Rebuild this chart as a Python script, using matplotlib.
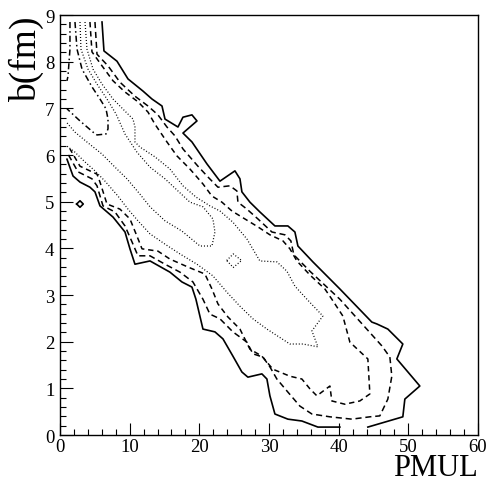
import numpy as np
import matplotlib
matplotlib.use("Agg")
import matplotlib.pyplot as plt

plt.rcParams['font.family'] = ['Liberation Serif', 'DejaVu Serif']

# contour lines, (PMUL, b) pairs
# level 1 - solid
solid_right = [(6.03, 8.85), (6.31, 8.23), (8.18, 8.01), (9.76, 7.63), (11.91, 7.37),
               (13.20, 7.20), (14.64, 7.05), (15.07, 6.77), (16.93, 6.60), (17.65, 6.81),
               (18.94, 6.86), (19.66, 6.73), (17.65, 6.47), (18.94, 6.28), (21.09, 5.81),
               (22.96, 5.44), (25.11, 5.66), (25.83, 5.49), (26.11, 5.21), (27.26, 4.99),
               (28.69, 4.78), (30.85, 4.48), (32.71, 4.48), (33.72, 4.35), (34.15, 4.05),
               (36.30, 3.71), (40.17, 3.13), (44.76, 2.42), (45.48, 2.38), (47.06, 2.27),
               (49.21, 1.95), (48.35, 1.63), (51.65, 1.05), (49.50, 0.77), (49.21, 0.39),
               (44.19, 0.17)]
solid_left = [(1.00, 5.91), (1.87, 5.55), (2.87, 5.42), (4.30, 5.31), (5.02, 5.21),
              (5.74, 4.91), (7.61, 4.67), (9.33, 4.35), (10.04, 3.99), (10.76, 3.66),
              (12.92, 3.73), (15.78, 3.49), (17.50, 3.28), (18.94, 3.17), (19.51, 2.91),
              (20.52, 2.27), (22.24, 2.21), (23.39, 2.06), (24.82, 1.69), (26.11, 1.35),
              (26.97, 1.24), (28.98, 1.31), (29.70, 1.20), (30.13, 0.84), (30.85, 0.45),
              (32.71, 0.34), (34.72, 0.30), (37.02, 0.17), (40.17, 0.17)]
solid_island = [(2.39, 4.95), (2.87, 5.02), (3.34, 4.95), (2.87, 4.88), (2.39, 4.95)]

# level 2 - dashed
dash_outer = [(5.02, 8.85), (5.31, 8.16), (6.89, 7.91), (8.61, 7.56), (10.76, 7.26),
              (12.63, 7.05), (14.06, 6.86), (15.35, 6.60), (16.50, 6.41), (17.65, 6.13),
              (19.80, 5.76), (21.23, 5.53), (22.67, 5.31), (24.39, 5.34), (25.39, 5.23),
              (25.54, 4.99), (26.83, 4.84), (28.41, 4.63), (30.42, 4.35), (32.28, 4.29),
              (33.14, 4.16), (33.57, 3.86), (35.87, 3.51), (40.17, 2.91), (46.20, 1.91),
              (47.35, 1.67), (47.63, 1.26), (47.06, 0.77), (45.91, 0.41), (44.48, 0.39),
              (41.89, 0.34), (38.74, 0.39), (36.16, 0.45), (34.43, 0.62), (32.71, 0.92),
              (31.13, 1.20), (30.13, 1.46), (29.13, 1.67), (27.69, 1.74), (26.83, 1.99),
              (24.82, 2.21), (22.96, 2.49), (21.52, 2.59), (20.52, 2.91), (19.08, 3.28),
              (17.22, 3.49), (15.07, 3.66), (12.92, 3.84), (11.19, 3.84), (10.33, 4.14),
              (9.33, 4.48), (7.89, 4.78), (6.17, 4.91), (5.31, 5.34), (4.59, 5.49),
              (2.58, 5.64), (1.00, 6.06)]

# level 3 - dashed
dash_inner = [(4.30, 8.85), (4.59, 8.21), (6.03, 7.91), (7.61, 7.59), (9.33, 7.35),
              (11.19, 7.14), (12.63, 6.92), (13.63, 6.66), (15.35, 6.28), (16.79, 5.98),
              (18.65, 5.70), (20.52, 5.38), (21.81, 5.12), (23.24, 4.99), (24.68, 4.80),
              (26.54, 4.63), (28.41, 4.46), (30.13, 4.29), (32.00, 4.16), (33.00, 3.99),
              (34.00, 3.73), (35.87, 3.43), (38.02, 3.13), (39.02, 2.91), (40.60, 2.55),
              (41.61, 1.99), (44.19, 1.63), (44.48, 0.88), (43.04, 0.73), (40.89, 0.66),
              (39.02, 0.73), (38.74, 1.05), (36.87, 0.84), (35.87, 0.99), (34.72, 1.20),
              (33.00, 1.26), (30.56, 1.41), (28.98, 1.69), (27.26, 1.84), (25.83, 2.27),
              (24.10, 2.53), (22.67, 2.81), (21.81, 3.13), (20.80, 3.45), (18.36, 3.60),
              (15.78, 3.77), (14.06, 3.94), (11.77, 3.99), (11.05, 4.26), (10.04, 4.63),
              (8.61, 4.84), (6.74, 4.95), (5.74, 5.42), (5.31, 5.59), (2.87, 5.76),
              (1.43, 6.13)]

# level 4 - dotted
dot_outer = [(3.59, 8.85), (3.87, 8.27), (4.74, 7.84), (6.03, 7.52), (7.61, 7.20),
             (9.33, 6.94), (10.48, 6.77), (10.76, 6.60), (10.76, 6.28), (11.48, 6.17),
             (13.63, 5.96), (15.78, 5.70), (17.65, 5.34), (19.51, 5.10), (21.52, 4.91),
             (22.96, 4.80), (24.82, 4.56), (26.83, 4.20), (28.69, 3.73), (31.13, 3.71),
             (32.57, 3.51), (33.72, 3.19), (35.44, 2.91), (37.73, 2.55), (36.16, 2.23),
             (37.02, 1.89), (34.86, 1.95), (33.00, 1.95), (29.70, 2.27), (27.69, 2.49),
             (25.83, 2.76), (23.96, 3.06), (21.95, 3.41), (19.66, 3.66), (17.22, 3.88),
             (15.07, 4.09), (12.92, 4.31), (11.19, 4.59), (9.76, 4.84), (8.32, 5.12),
             (6.46, 5.44), (5.02, 5.66), (3.59, 5.85), (2.15, 6.06), (1.00, 6.19)]

# level 5 - dotted
dot_inner = [(2.87, 8.85), (3.01, 8.27), (4.02, 7.84), (5.31, 7.52), (6.74, 7.20),
             (8.04, 6.88), (9.33, 6.45), (11.05, 6.06), (12.92, 5.74), (15.07, 5.49),
             (16.93, 5.23), (18.65, 4.99), (20.52, 4.89), (21.95, 4.63), (22.24, 4.35),
             (21.81, 4.05), (20.09, 4.05), (17.50, 4.37), (15.07, 4.59), (12.92, 4.89),
             (11.48, 5.16), (9.61, 5.49), (7.89, 5.74), (6.03, 6.02), (4.02, 6.26),
             (2.15, 6.49), (1.00, 6.69)]
dot_island = [(23.92, 3.74), (24.87, 3.88), (26.07, 3.74), (24.87, 3.59), (23.92, 3.74)]

# level 6 - dash-dot
dashdot_a = [(1.43, 8.85), (1.43, 8.27), (1.15, 7.69), (1.00, 7.59)]
dashdot_b = [(2.15, 8.85), (2.44, 8.27), (3.16, 7.84), (4.59, 7.46), (5.74, 7.20),
             (6.60, 6.99), (6.89, 6.77), (6.89, 6.56), (6.60, 6.45), (5.31, 6.43),
             (4.74, 6.49), (2.87, 6.73), (1.00, 6.99)]

fig = plt.figure(figsize=(4.89, 4.85), dpi=100)
ax = fig.add_axes([0.1227, 0.1010, 0.8548, 0.8660])

styles = [
    (solid_right, '-', 1.2),
    (solid_left, '-', 1.2),
    (solid_island, '-', 1.2),
    (dash_outer, (0, (4, 2.5)), 1.1),
    (dash_inner, (0, (3.5, 2.5)), 1.1),
    (dot_outer, (0, (0.8, 1.6)), 0.9),
    (dot_inner, (0, (0.8, 1.6)), 0.9),
    (dot_island, (0, (0.8, 1.6)), 0.9),
    (dashdot_a, (0, (4, 2, 1, 2)), 1.1),
    (dashdot_b, (0, (4, 2, 1, 2)), 1.1),
]
for pts, ls, lw in styles:
    xs, ys = zip(*pts)
    ax.plot(xs, ys, color='black', linestyle=ls, linewidth=lw)

ax.set_xlim(0, 60)
ax.set_ylim(0, 9)
ax.set_xticks(np.arange(0, 61, 10))
ax.set_yticks(np.arange(0, 10, 1))
ax.set_xticks(np.arange(0, 61, 2), minor=True)
ax.set_yticks(np.arange(0, 9.01, 0.2), minor=True)
ax.tick_params(which='both', direction='in', top=False, right=False, labelsize=13.5)
ax.tick_params(axis='x', pad=2)
ax.tick_params(axis='y', pad=4)
ax.tick_params(which='major', length=9, width=0.8)
ax.tick_params(which='minor', length=4.5, width=0.8)
for sp in ax.spines.values():
    sp.set_linewidth(1.0)

fig.text(0.9775, 0.004, 'PMUL', fontsize=22, ha='right', va='bottom')
ax.set_ylabel('b(fm)', fontsize=27, loc='top', labelpad=1)

fig.savefig('out.png', dpi=100)
